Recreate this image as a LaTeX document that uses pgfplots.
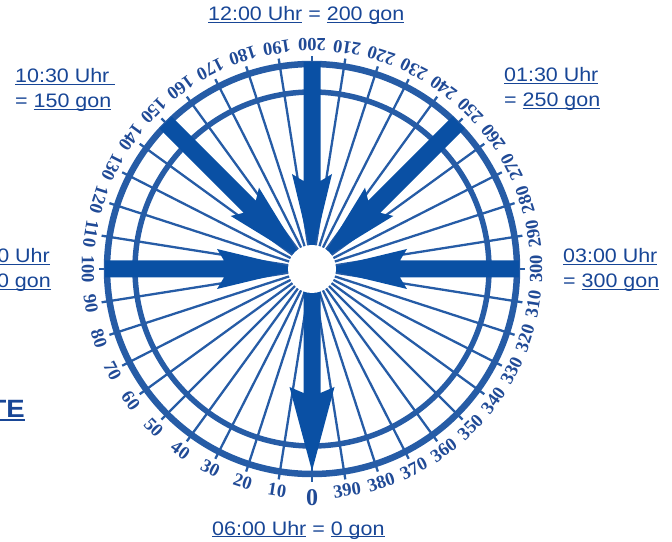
\documentclass[border=0pt]{standalone}
\usepackage{pgfplots}
\pgfplotsset{compat=1.18}
\usepackage{pgfplotstable}
\usepackage{fontspec}
\setmainfont{Liberation Sans}
\newfontfamily\lab[FakeStretch=1.1]{Liberation Sans}
\newfontfamily\num{Liberation Serif}
\definecolor{arrowblue}{RGB}{10,80,164}
\definecolor{ringblue}{RGB}{38,92,166}
\definecolor{numblue}{RGB}{32,74,150}
\definecolor{txtblue}{RGB}{24,70,150}
\newcommand\ul[1]{\leavevmode\setbox0\hbox{#1}\rlap{\rule[-2.4bp]{\wd0}{1.4bp}}\box0\relax}
\newcommand\ulb[1]{\leavevmode\setbox0\hbox{#1}\rlap{\rule[-3bp]{\wd0}{2.2bp}}\box0\relax}

\pgfplotstableread{
g len
0 213
10 213
20 213
30 213
40 213
50 213
60 213
70 213
80 213
90 213
100 213
110 213
120 213
130 213
140 213
150 213
160 213
170 213
180 213
190 213
200 213
210 213
220 213
230 213
240 213
250 213
260 213
270 213
280 213
290 213
300 213
310 213
320 213
330 213
340 213
350 213
360 213
370 213
380 213
390 213
}\gons

\pgfplotstableread{
a b
207 8.5
88 8.5
95 20
12 0
95 -20
88 -8.5
207 -8.5
}\inarrow

\pgfplotstableread{
a b
18 8.5
124 8.5
118 22.5
202 0
118 -22.5
124 -8.5
18 -8.5
}\outarrow

\begin{document}
\begin{tikzpicture}
\begin{axis}[hide axis, scale only axis, width=672bp, height=542bp,
  xmin=0, xmax=672, ymin=0, ymax=542, clip=false]
\path (axis cs:0,0) rectangle (axis cs:672,542);
% spokes
\addplot[ringblue, line width=2.3bp,
  quiver={u={\thisrow{len}*cos(270-0.9*\thisrow{g})}, v={\thisrow{len}*sin(270-0.9*\thisrow{g})}}]
  table[x expr=312, y expr=273] {\gons};
% rings
\draw[ringblue, line width=6.5bp] (axis cs:312,273) circle[radius=205];
\draw[ringblue, line width=5.5bp] (axis cs:312,273) circle[radius=177];
% inward arrows
\pgfplotsinvokeforeach{90,135,180,45,0}{
  \addplot[fill=arrowblue, draw=none]
    table[x expr={312+\thisrow{a}*cos(#1)-\thisrow{b}*sin(#1)},
          y expr={273+\thisrow{a}*sin(#1)+\thisrow{b}*cos(#1)}] {\inarrow} -- cycle;
}
% outward arrow
\addplot[fill=arrowblue, draw=none]
  table[x expr={312+\thisrow{a}*cos(270)-\thisrow{b}*sin(270)},
        y expr={273+\thisrow{a}*sin(270)+\thisrow{b}*cos(270)}] {\outarrow} -- cycle;
% centre
\fill[white] (axis cs:312,273) circle[radius=24];
% scale numbers
\pgfplotsinvokeforeach{10,20,...,390}{
  \node[font=\num\bfseries\fontsize{18.5bp}{18.5bp}\selectfont, text=numblue,
        rotate={360-0.9*#1}, inner sep=0]
    at (axis cs:{312+224*cos(270-0.9*#1)},{273+224*sin(270-0.9*#1)}) {#1};
}
\node[font=\num\bfseries\fontsize{24bp}{24bp}\selectfont, text=numblue, inner sep=0]
  at (axis cs:312,44) {0};
% texts
\tikzset{lbl/.style={font=\lab\fontsize{19.5bp}{23bp}\selectfont, text=txtblue, inner sep=0}}
\node[lbl, anchor=base west] at (axis cs:208,521) {\ul{12:00 Uhr} = \ul{200 gon}};
\node[lbl, anchor=base west] at (axis cs:15,459) {\ul{10:30 Uhr\ }};
\node[lbl, anchor=base west] at (axis cs:15,434) {= \ul{150 gon}};
\node[lbl, anchor=base west] at (axis cs:504,460) {\ul{01:30 Uhr}};
\node[lbl, anchor=base west] at (axis cs:504,435) {= \ul{250 gon}};
\node[lbl, anchor=base west] at (axis cs:563,279) {\ul{03:00 Uhr}};
\node[lbl, anchor=base west] at (axis cs:563,254) {= \ul{300 gon}};
\node[lbl, anchor=base east, overlay] at (axis cs:50,279) {\ul{09:00 Uhr}};
\node[lbl, anchor=base east, overlay] at (axis cs:51,254) {= \ul{100 gon}};
\node[lbl, anchor=base west] at (axis cs:212,7) {\ul{06:00 Uhr} = \ul{0 gon}};
\node[font=\lab\bfseries\fontsize{25bp}{25bp}\selectfont, text=txtblue, inner sep=0,
      anchor=base east, overlay] at (axis cs:25,124) {\ulb{TE}};
\end{axis}
\end{tikzpicture}
\end{document}
